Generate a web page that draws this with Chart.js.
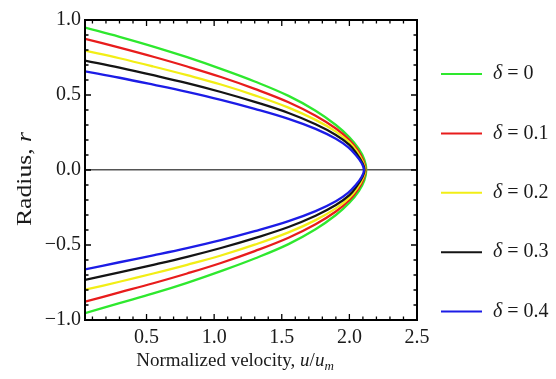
<!DOCTYPE html>
<html>
<head>
<meta charset="utf-8">
<script src="https://cdn.jsdelivr.net/npm/chart.js@4"></script>
<style>
  body { margin: 0; background: #fff; }
  #wrap { position: relative; width: 556px; height: 379px; }
</style>
</head>
<body>
<div id="wrap"><canvas id="chart"></canvas></div>
<script>
// velocity profiles u(r) (top wall -> centre -> bottom wall)
const deltaLabels = ['0', '0.1', '0.2', '0.3', '0.4'];
const lineColors = ['#2ee82e', '#e81c1c', '#f2ee16', '#141414', '#1c1ce6'];

const uDelta0 = [0.045, 0.30, 0.55, 0.80, 1.05, 1.30, 1.55, 1.75, 1.90, 2.00, 2.07, 2.11, 2.125, 2.11, 2.07, 2.00, 1.90, 1.75, 1.55, 1.30, 1.05, 0.80, 0.55, 0.30, 0.045];
const rDelta0 = [0.950, 0.888, 0.823, 0.752, 0.674, 0.590, 0.494, 0.395, 0.300, 0.218, 0.140, 0.070, 0, -0.070, -0.140, -0.218, -0.300, -0.395, -0.494, -0.590, -0.674, -0.752, -0.823, -0.888, -0.955];

const uDelta1 = [0.045, 0.30, 0.55, 0.80, 1.05, 1.30, 1.55, 1.75, 1.90, 2.00, 2.065, 2.103, 2.12, 2.103, 2.065, 2.00, 1.90, 1.75, 1.55, 1.30, 1.05, 0.80, 0.55, 0.30, 0.045];
const rDelta1 = [0.875, 0.816, 0.755, 0.690, 0.620, 0.541, 0.452, 0.362, 0.277, 0.200, 0.128, 0.062, 0, -0.062, -0.128, -0.200, -0.277, -0.362, -0.452, -0.541, -0.620, -0.690, -0.755, -0.816, -0.878];

const uDelta2 = [0.045, 0.30, 0.55, 0.80, 1.05, 1.30, 1.55, 1.75, 1.90, 2.00, 2.06, 2.098, 2.116, 2.098, 2.06, 2.00, 1.90, 1.75, 1.55, 1.30, 1.05, 0.80, 0.55, 0.30, 0.045];
const rDelta2 = [0.796, 0.745, 0.690, 0.632, 0.570, 0.498, 0.416, 0.334, 0.256, 0.184, 0.118, 0.057, 0, -0.057, -0.118, -0.184, -0.256, -0.334, -0.416, -0.498, -0.570, -0.632, -0.690, -0.745, -0.798];

const uDelta3 = [0.045, 0.30, 0.55, 0.80, 1.05, 1.30, 1.55, 1.75, 1.90, 2.00, 2.055, 2.093, 2.112, 2.093, 2.055, 2.00, 1.90, 1.75, 1.55, 1.30, 1.05, 0.80, 0.55, 0.30, 0.045];
const rDelta3 = [0.729, 0.682, 0.632, 0.579, 0.520, 0.454, 0.380, 0.305, 0.234, 0.168, 0.108, 0.052, 0, -0.052, -0.108, -0.168, -0.234, -0.305, -0.380, -0.454, -0.520, -0.579, -0.632, -0.682, -0.733];

const uDelta4 = [0.045, 0.30, 0.55, 0.80, 1.05, 1.30, 1.55, 1.75, 1.90, 1.99, 2.05, 2.09, 2.108, 2.09, 2.05, 1.99, 1.90, 1.75, 1.55, 1.30, 1.05, 0.80, 0.55, 0.30, 0.045];
const rDelta4 = [0.658, 0.615, 0.569, 0.521, 0.468, 0.408, 0.341, 0.274, 0.208, 0.152, 0.097, 0.047, 0, -0.047, -0.097, -0.152, -0.208, -0.274, -0.341, -0.408, -0.468, -0.521, -0.569, -0.615, -0.662];

const uSeries = [uDelta0, uDelta1, uDelta2, uDelta3, uDelta4];
const rSeries = [rDelta0, rDelta1, rDelta2, rDelta3, rDelta4];

const xMin = 0.045, xMax = 2.5;
const yMin = -1, yMax = 1;

const serif = '"Liberation Serif", "DejaVu Serif", serif';
const isMajor = v => Math.abs(v * 2 - Math.round(v * 2)) < 1e-6;
const fmt = v => (v < 0 ? '\u2212' : '') + Math.abs(v).toFixed(1);

const datasets = deltaLabels.map((d, i) => ({
  label: 'δ = ' + d,
  data: uSeries[i].map((u, k) => ({ x: u, y: rSeries[i][k] })),
  showLine: true,
  borderColor: lineColors[i],
  backgroundColor: lineColors[i],
  borderWidth: 2.3,
  pointRadius: 0,
  tension: 0.4,
  order: deltaLabels.length - i,
}));

// inward ticks + frame, Mathematica style
const framePlugin = {
  id: 'frame',
  afterDatasetsDraw(chart) {
    const { ctx, chartArea: a, scales: { x, y } } = chart;
    ctx.save();
    ctx.strokeStyle = '#000';
    ctx.lineWidth = 1.3;
    ctx.beginPath();
    x.ticks.forEach(t => {
      const px = x.getPixelForValue(t.value);
      const len = isMajor(t.value) ? 6 : 3.5;
      ctx.moveTo(px, a.bottom); ctx.lineTo(px, a.bottom - len);
      ctx.moveTo(px, a.top); ctx.lineTo(px, a.top + len);
    });
    y.ticks.forEach(t => {
      const py = y.getPixelForValue(t.value);
      const len = isMajor(t.value) ? 6 : 3.5;
      ctx.moveTo(a.left, py); ctx.lineTo(a.left + len, py);
      ctx.moveTo(a.right, py); ctx.lineTo(a.right - len, py);
    });
    ctx.stroke();
    ctx.lineWidth = 2;
    ctx.strokeRect(a.left, a.top, a.width, a.height);
    ctx.restore();
  }
};

// axis titles and legend with italic symbols
const textPlugin = {
  id: 'texts',
  afterDraw(chart) {
    const { ctx } = chart;
    ctx.save();
    ctx.fillStyle = '#1a1a1a';
    ctx.textBaseline = 'alphabetic';

    // x title: Normalized velocity, u/u_m
    const f = 19;
    const parts = [
      { t: 'Normalized velocity, ', font: `${f}px ${serif}`, dy: 0 },
      { t: 'u', font: `italic ${f}px ${serif}`, dy: 0 },
      { t: '/', font: `${f}px ${serif}`, dy: 0 },
      { t: 'u', font: `italic ${f}px ${serif}`, dy: 0 },
      { t: 'm', font: `italic ${Math.round(f * 0.7)}px ${serif}`, dy: 4 },
    ];
    let total = 0;
    parts.forEach(p => { ctx.font = p.font; p.w = ctx.measureText(p.t).width; total += p.w; });
    let xx = 235 - total / 2;
    parts.forEach(p => { ctx.font = p.font; ctx.fillText(p.t, xx, 366 + p.dy); xx += p.w; });

    // y title: Radius, r (stretched along its length like the source)
    ctx.save();
    ctx.translate(31, 179);
    ctx.rotate(-Math.PI / 2);
    ctx.scale(1.22, 1);
    ctx.font = `21px ${serif}`;
    const w1 = ctx.measureText('Radius, ').width;
    ctx.font = `italic 21px ${serif}`;
    const w2 = ctx.measureText('r').width;
    const sx = -(w1 + w2) / 2;
    ctx.font = `21px ${serif}`;
    ctx.fillText('Radius, ', sx, 0);
    ctx.font = `italic 21px ${serif}`;
    ctx.fillText('r', sx + w1, 0);
    ctx.restore();

    // legend
    ctx.textBaseline = 'middle';
    chart.data.datasets.forEach((ds, i) => {
      const ly = 74 + i * 59.4;
      ctx.strokeStyle = ds.borderColor;
      ctx.lineWidth = 2;
      ctx.beginPath();
      ctx.moveTo(441, ly); ctx.lineTo(482, ly);
      ctx.stroke();
      ctx.fillStyle = '#1a1a1a';
      ctx.font = `italic 20px ${serif}`;
      ctx.fillText('δ', 493, ly);
      const dw = ctx.measureText('δ').width;
      ctx.font = `20px ${serif}`;
      ctx.fillText(' = ' + deltaLabels[i], 493 + dw, ly);
    });
    ctx.restore();
  }
};

new Chart(document.getElementById('chart'), {
  type: 'scatter',
  data: { datasets },
  plugins: [framePlugin, textPlugin],
  options: {
    responsive: true,
    maintainAspectRatio: false,
    animation: false,
    layout: { padding: { left: 0, top: 20, right: 139, bottom: 0 } },
    plugins: { legend: { display: false }, tooltip: { enabled: false } },
    scales: {
      x: {
        type: 'linear',
        min: xMin,
        max: xMax,
        afterFit: s => { s.height = 59; },
        border: { display: false },
        grid: { display: false, drawTicks: false },
        ticks: {
          stepSize: 0.1,
          includeBounds: false,
          autoSkip: false,
          maxRotation: 0,
          padding: 6,
          color: '#1a1a1a',
          font: { family: serif, size: 20 },
          callback: v => (isMajor(v) ? v.toFixed(1) : ''),
        },
      },
      y: {
        type: 'linear',
        min: yMin,
        max: yMax,
        afterFit: s => { s.width = 85; },
        border: { display: false },
        grid: {
          drawTicks: false,
          lineWidth: 1.5,
          color: c => (Math.abs(c.tick.value) < 1e-9 ? '#555' : 'rgba(0,0,0,0)'),
        },
        ticks: {
          stepSize: 0.1,
          autoSkip: false,
          padding: 4,
          color: '#1a1a1a',
          font: { family: serif, size: 20 },
          callback: v => (isMajor(v) ? fmt(v) : ''),
        },
      },
    },
  },
});
</script>
</body>
</html>
